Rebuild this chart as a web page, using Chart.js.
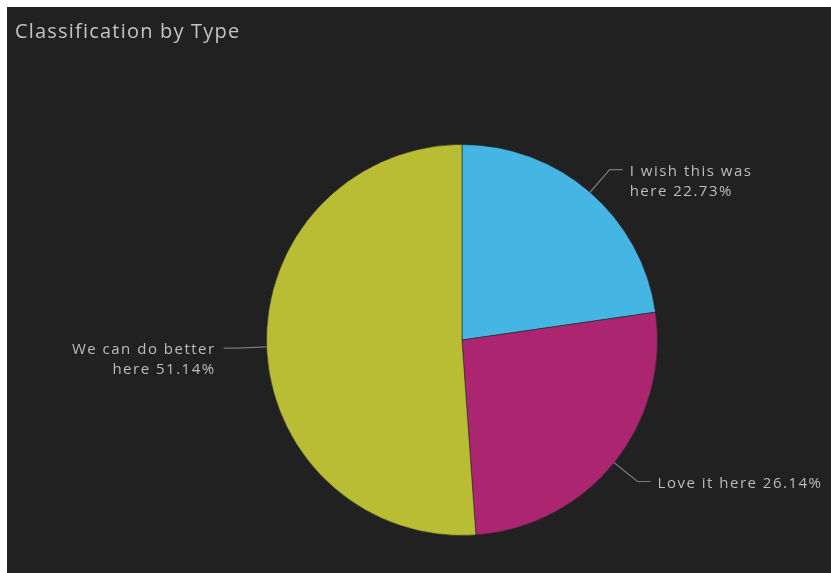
<!DOCTYPE html>
<html lang="en">
<head>
  <meta charset="UTF-8" />
  <title>Classification by Type</title>
  <script src="https://cdn.jsdelivr.net/npm/chart.js"></script>
  <style>
    html, body {
      margin: 0;
      padding: 0;
      background: #ffffff;
      width: 831px;
      height: 573px;
      overflow: hidden;
    }
    .panel {
      position: absolute;
      left: 7px;
      top: 7px;
      width: 824px;
      height: 566px;
      background: #212121;
    }
    .panel h1 {
      position: absolute;
      left: 8px;
      top: 10px;
      margin: 0;
      font: 400 20px 'Open Sans', sans-serif;
      letter-spacing: 1.2px;
      color: #c4c4c4;
    }
    canvas {
      position: absolute;
      left: 0;
      top: 0;
    }
  </style>
</head>
<body>
  <div class="panel">
    <canvas id="typeChart" width="824" height="566"></canvas>
    <h1>Classification by Type</h1>
  </div>

  <script>
    // categories (each entry is the label split into lines)
    const categories = [
      ['I wish this was', 'here'],
      ['Love it here'],
      ['We can do better', 'here']
    ];
    // share of each type, percent
    const shares = [22.73, 26.14, 51.14];
    const sliceColors = ['#45b6e4', '#ab2571', '#b8bd34'];

    // draws leader lines and the labels next to each slice
    const sliceLabels = {
      id: 'sliceLabels',
      afterDatasetsDraw(chart) {
        const ctx = chart.ctx;
        const arcs = chart.getDatasetMeta(0).data;
        ctx.save();
        ctx.font = '15px "Open Sans", sans-serif';
        ctx.letterSpacing = '1.5px';
        ctx.fillStyle = '#bcbcbc';
        ctx.strokeStyle = '#7a7a7a';
        ctx.lineWidth = 1.2;
        arcs.forEach((arc, i) => {
          const p = arc.getProps(['x', 'y', 'startAngle', 'endAngle', 'outerRadius'], true);
          const mid = (p.startAngle + p.endAngle) / 2;
          const cos = Math.cos(mid), sin = Math.sin(mid);
          const x0 = p.x + cos * p.outerRadius;
          const y0 = p.y + sin * p.outerRadius;
          const right = cos >= 0;
          const x1 = p.x + cos * (p.outerRadius + 30);
          const y1 = p.y + sin * (p.outerRadius + 30);
          const x2 = x1 + (right ? 13 : -13);
          ctx.beginPath();
          ctx.moveTo(x0, y0);
          ctx.lineTo(x1, y1);
          ctx.lineTo(x2, y1);
          ctx.stroke();

          const lines = categories[i].slice();
          lines[lines.length - 1] += ' ' + shares[i].toFixed(2) + '%';
          ctx.textAlign = right ? 'left' : 'right';
          ctx.textBaseline = 'middle';
          const tx = x2 + (right ? 7 : -8);
          const lh = 20;
          lines.forEach((ln, k) => {
            ctx.fillText(ln, tx, y1 + 2 + k * lh);
          });
        });
        ctx.restore();
      }
    };

    new Chart(document.getElementById('typeChart'), {
      type: 'pie',
      data: {
        labels: categories,
        datasets: [{
          data: shares,
          backgroundColor: sliceColors,
          borderColor: 'rgba(40, 40, 40, 0.6)',
          borderWidth: 1
        }]
      },
      options: {
        responsive: false,
        animation: false,
        layout: {
          padding: { left: 259, top: 137, right: 173, bottom: 37 }
        },
        plugins: {
          legend: { display: false },
          tooltip: { enabled: false }
        }
      },
      plugins: [sliceLabels]
    });
  </script>
</body>
</html>
